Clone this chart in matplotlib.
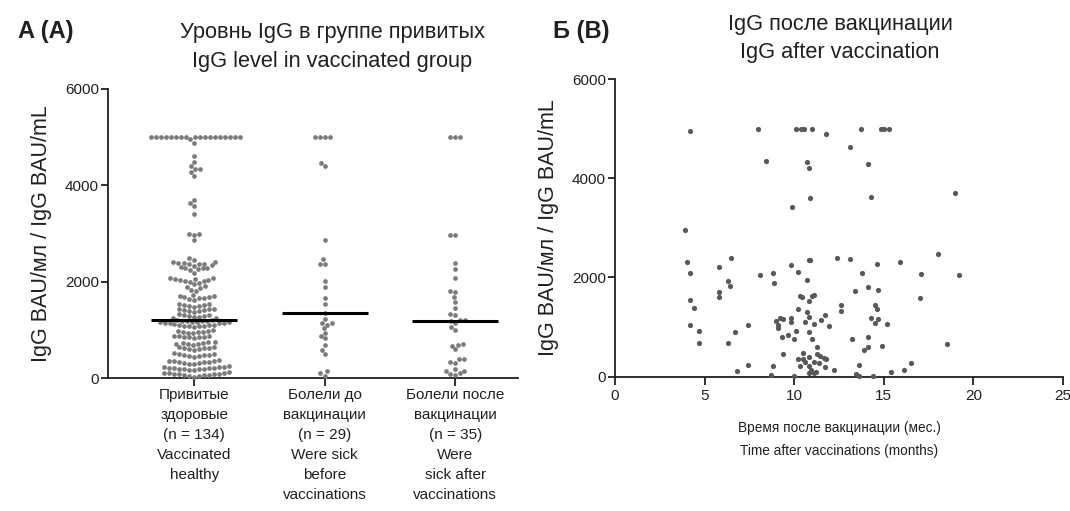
import matplotlib
matplotlib.use("Agg")
import matplotlib.pyplot as plt
import numpy as np

W, H = 1070, 511

# --- panel A: IgG per group (swarm) ---
group_labels = [
    "Привитые\nздоровые\n(n = 134)\nVaccinated\nhealthy",
    "Болели до\nвакцинации\n(n = 29)\nWere sick\nbefore\nvaccinations",
    "Болели после\nвакцинации\n(n = 35)\nWere\nsick after\nvaccinations",
]

vaccinated_healthy = [
    5000, 5000, 5000, 5000, 5000, 5000, 5000, 5000, 5000, 5000, 5000, 5000,
    5000, 5000, 5000, 5000, 5000, 5000, 4950, 4880,
    4600, 4480, 4400, 4340, 4340, 4270, 4190,
    3690, 3620, 3565, 3400,
    2990, 2980, 2970, 2850,
    2480, 2445,
    2410, 2400, 2390, 2383, 2370, 2363, 2356, 2340, 2328, 2307,
    2287, 2280, 2270, 2260, 2240, 2183,
    2080, 2070, 2060, 2050, 2040, 2030, 2020, 2010,
    1990, 1970, 1950,
    1900, 1880, 1860, 1830, 1800,
    1720, 1700, 1690, 1680, 1670, 1660, 1650, 1640, 1620,
    1540, 1530, 1520, 1510, 1500, 1490, 1480,
    1440, 1430, 1420, 1410, 1400, 1390, 1380, 1370,
    1320, 1310, 1300, 1290, 1280, 1270, 1260, 1250, 1240,
    1200, 1195, 1190, 1185, 1180, 1175, 1170, 1165, 1160, 1155, 1150, 1145,
    1140, 1135,
    1110, 1100, 1095, 1090, 1085, 1080, 1075, 1070, 1060,
    990, 980, 970, 960, 955, 950, 940, 930,
    880, 870, 865, 860, 850, 845, 840, 830,
    750, 740, 730, 720, 715, 710, 700, 690,
    650, 640, 630, 625, 620, 610, 600, 590,
    510, 500, 490, 480, 475, 470, 460, 450, 440,
    370, 360, 350, 345, 340, 335, 330, 320, 310, 300, 290,
    240, 230, 225, 220, 215, 210, 205, 200, 195, 190, 185, 180, 175, 170,
    120, 110, 100, 95, 90, 85, 80, 75, 70, 65, 60, 50, 40, 30,
]
sick_before = [
    5000, 5000, 5000, 5000, 4460, 4390, 2850, 2470, 2370, 2370,
    2010, 1890, 1660, 1530, 1340, 1230, 1150, 1130, 1100, 1030,
    880, 930, 820, 680, 570, 490, 145, 97, 48,
]
sick_after = [
    5000, 5000, 5000, 2970, 2970, 2380, 2265, 2065, 1800, 1775,
    1670, 1570, 1455, 1305, 1320, 1200, 1210, 1145, 1180, 1060,
    995, 670, 710, 685, 595, 390, 385, 310, 325, 180,
    150, 97, 83, 145, 62,
]

# --- panel B: IgG vs time after vaccination ---
months = [
    4.2, 8.0, 8.4, 3.9, 4.0, 4.2, 6.5, 5.8, 6.3, 6.4, 5.8, 5.8, 8.1, 8.8, 8.9,
    4.2, 4.4, 4.2, 4.7, 4.7, 6.7, 7.4, 6.3, 6.8, 7.4, 8.8, 8.7,
    9.0, 9.1, 9.1, 9.2, 9.4, 9.3, 9.65, 9.4, 9.8, 10.2, 9.9,
    10.1, 10.4, 10.55, 11.0, 10.7, 10.8, 10.9, 11.8,
    10.8, 10.9, 10.7, 10.3, 10.45, 11.0, 11.1, 10.8, 10.2, 10.7, 10.8, 10.6,
    11.1, 11.5, 11.7, 11.95, 9.8, 9.8, 10.1, 10.0, 10.8, 11.0, 11.3,
    10.5, 10.2, 10.5, 10.85, 11.3, 11.45, 11.65, 11.8,
    10.6, 11.1, 11.4, 10.3, 10.8, 10.95, 11.2, 10.8, 11.1, 11.7, 10.0,
    12.4, 13.1, 14.6, 15.9, 13.8, 14.1, 13.4, 14.7, 12.6, 12.6, 14.5, 14.6,
    14.3, 14.5, 14.7, 15.2, 13.2, 14.1, 13.9, 14.1, 14.9, 12.2, 13.6, 13.6,
    13.45, 14.4, 15.4,
    13.7, 14.85, 15.0, 15.3, 13.1, 14.1, 14.3,
    19.0, 18.0, 17.1, 19.2, 17.0, 18.5, 16.5, 16.1,
]
igg_after = [
    4950, 5000, 4350, 2960, 2310, 2090, 2380, 2200, 1930, 1830, 1700, 1600, 2050, 2090, 1890,
    1540, 1380, 1030, 910, 670, 890, 1030, 680, 110, 230, 210, 40,
    1110, 1040, 985, 1175, 1165, 790, 830, 450, 2250, 2115, 3425,
    5000, 5000, 5000, 5000, 4330, 4210, 3590, 4900,
    2350, 2350, 1950, 1625, 1600, 1625, 1640, 1520, 1360, 1300, 1195, 1100,
    1065, 1140, 1235, 1020, 1175, 1095, 910, 760, 890, 760, 590,
    475, 360, 360, 390, 445, 415, 375, 360,
    285, 290, 270, 210, 210, 135, 90, 65, 65, 185, 20,
    2400, 2370, 2270, 2300, 2080, 1810, 1725, 1740, 1450, 1315, 1450, 1355,
    1180, 1085, 1160, 1060, 750, 800, 530, 595, 615, 130, 230, 10,
    50, 10, 95,
    5000, 5000, 5000, 5000, 4620, 4280, 3630,
    3700, 2465, 2060, 2055, 1580, 655, 270, 135,
]


def swarm_offsets(ys_px, d):
    # place points one by one (bottom to top) as close to the centre as possible
    xs = np.zeros(len(ys_px))
    done = []
    for i in np.argsort(ys_px, kind="stable"):
        y = ys_px[i]
        near = [j for j in done if abs(ys_px[j] - y) < d]
        cands = [0.0]
        for j in near:
            w = np.sqrt(d * d - (ys_px[j] - y) ** 2)
            cands += [xs[j] - w, xs[j] + w]
        cands.sort(key=abs)
        for c in cands:
            if all((c - xs[j]) ** 2 + (ys_px[j] - y) ** 2 >= d * d - 1e-6 for j in near):
                xs[i] = c
                break
        done.append(i)
    return xs


plt.rcParams['font.family'] = ['Liberation Sans', 'DejaVu Sans']
text_color = "#231f20"

fig = plt.figure(figsize=(W / 100, H / 100), dpi=100)
ax1 = fig.add_axes([108 / W, 1 - 378 / H, (518 - 108) / W, (378 - 88.5) / H])
ax2 = fig.add_axes([615 / W, 1 - 376.5 / H, (1063 - 615) / W, (376.5 - 79) / H])

ax1.set_xlim(-0.66, 2.48)
ax1.set_ylim(0, 6000)

# pixel scale of the axes, used for the swarm layout
p0 = ax1.transData.transform((0, 0))
p1 = ax1.transData.transform((1, 1000))
px_x = p1[0] - p0[0]
px_y = (p1[1] - p0[1]) / 1000

for i, vals in enumerate([vaccinated_healthy, sick_before, sick_after]):
    vals = np.asarray(vals, dtype=float)
    off = swarm_offsets(vals * px_y, 5.0) / px_x
    ax1.scatter(i + off, vals, s=11.5, color="#7b7b7d", linewidths=0, clip_on=False, zorder=3)
    ax1.hlines(np.median(vals), i - 0.33, i + 0.33, color="black", lw=2.2, zorder=5)

ax1.set_xticks(range(len(group_labels)))
ax1.set_xticklabels(group_labels)
ax1.set_yticks([0, 2000, 4000, 6000])
ax1.set_ylabel("IgG BAU/мл / IgG BAU/mL", fontsize=15.5, color=text_color, labelpad=9)
ax1.tick_params(axis="x", labelsize=11, length=6, width=1.3, colors=text_color, pad=1)
for lab in ax1.get_xticklabels():
    lab.set_linespacing(1.55)
    lab.set_verticalalignment("top")

ax2.scatter(months, igg_after, s=14, color="#58585a", linewidths=0, clip_on=False, zorder=3)
ax2.set_xlim(0, 25)
ax2.set_ylim(0, 6000)
ax2.set_xticks([0, 5, 10, 15, 20, 25])
ax2.set_yticks([0, 2000, 4000, 6000])
ax2.set_xlabel("Время после вакцинации (мес.)\nTime after vaccinations (months)",
               fontsize=9.8, color=text_color, labelpad=13, linespacing=1.8)
ax2.set_ylabel("IgG BAU/мл / IgG BAU/mL", fontsize=15.5, color=text_color, labelpad=9)
ax2.tick_params(axis="x", labelsize=11, length=6, width=1.3, colors=text_color, pad=3)

for ax in (ax1, ax2):
    ax.spines["top"].set_visible(False)
    ax.spines["right"].set_visible(False)
    ax.spines["left"].set_linewidth(1.3)
    ax.spines["bottom"].set_linewidth(1.3)
    ax.spines["left"].set_color("#231f20")
    ax.spines["bottom"].set_color("#231f20")
    ax.tick_params(axis="y", labelsize=11, length=5, width=1.3, colors=text_color, pad=1.5)

fig.text(18 / W, 1 - 38 / H, "A (A)", fontsize=17, fontweight="bold",
         color=text_color, va="baseline", ha="left")
fig.text(332 / W, 1 - 38 / H, "Уровнь IgG в группе привитых", fontsize=15.7,
         color=text_color, va="baseline", ha="center")
fig.text(332 / W, 1 - 67 / H, "IgG level in vaccinated group", fontsize=15.7,
         color=text_color, va="baseline", ha="center")
fig.text(553 / W, 1 - 38 / H, "Б (B)", fontsize=17, fontweight="bold",
         color=text_color, va="baseline", ha="left")
fig.text(840 / W, 1 - 30 / H, "IgG после вакцинации", fontsize=15.7,
         color=text_color, va="baseline", ha="center")
fig.text(840 / W, 1 - 58 / H, "IgG after vaccination", fontsize=15.7,
         color=text_color, va="baseline", ha="center")

fig.savefig("out.png", dpi=100)
